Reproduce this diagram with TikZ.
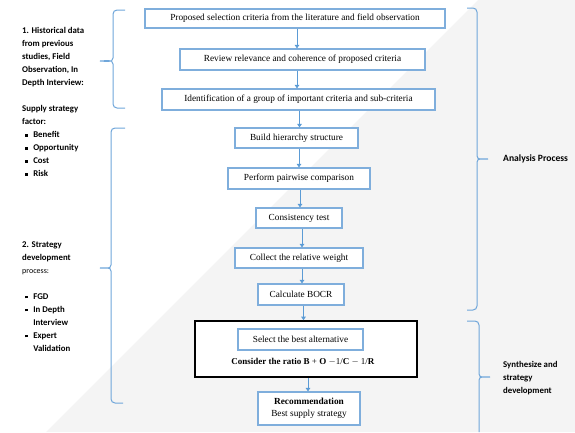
\documentclass[tikz,border=0pt]{standalone}
\usepackage{fontspec}
\setmainfont{Liberation Serif}
\newfontfamily\carl{Carlito}
\usetikzlibrary{arrows.meta}
\definecolor{boxblue}{HTML}{7FAEDC}
\definecolor{arrblue}{HTML}{5B9BD5}
\definecolor{braceblue}{HTML}{6FA6DA}
\definecolor{bggray}{HTML}{F4F4F4}
\tikzset{
  procbox/.style={draw=boxblue,line width=1.1pt,fill=white,inner sep=0pt,
    font=\fontsize{9.3}{11}\selectfont,align=center},
  arr/.style={draw=arrblue,line width=1pt,-{Triangle[width=4.5pt,length=3.5pt]}},
  bracestyle/.style={draw=braceblue,line width=1pt},
  sidetext/.style={inner sep=0pt,anchor=north west,align=left,
    font=\carl\bfseries\fontsize{8.8}{13}\selectfont},
}
\newcommand{\bul}{\hspace*{3pt}\rule[1pt]{2.6pt}{2.6pt}\hspace{5.5pt}}
\newcommand{\bulind}{\hspace*{11.1pt}}
\begin{document}
\begin{tikzpicture}[x=1pt,y=-1pt]
\useasboundingbox (0,0) rectangle (575,432);
\fill[bggray] (478,0) -- (575,0) -- (575,432) -- (46,432) -- cycle;

% main flow
\node[procbox,minimum width=300pt,minimum height=19pt] (b1) at (295,18.5)
  {Proposed selection criteria from the literature and field observation};
\node[procbox,minimum width=245pt,minimum height=21pt] (b2) at (302.5,59.5)
  {Review relevance and coherence of proposed criteria};
\node[procbox,minimum width=273pt,minimum height=21pt] (b3) at (298.5,99.5)
  {Identification of a group of important criteria and sub-criteria};
\node[procbox,minimum width=123pt,minimum height=20pt] (b4) at (296.5,138)
  {Build hierarchy structure};
\node[procbox,minimum width=142pt,minimum height=21pt] (b5) at (299,178.5)
  {Perform pairwise comparison};
\node[procbox,minimum width=86pt,minimum height=20pt] (b6) at (299,218)
  {Consistency test};
\node[procbox,minimum width=128pt,minimum height=20pt] (b7) at (299,258)
  {Collect the relative weight};
\node[procbox,minimum width=86pt,minimum height=21pt] (b8) at (301,294.5)
  {Calculate BOCR};
\node[draw=black,line width=1.6pt,fill=white,minimum width=222pt,minimum height=56pt,inner sep=0pt] (b9) at (306,349) {};
\node[procbox,minimum width=125pt,minimum height=21pt] (b10) at (300.5,339.5)
  {Select the best alternative};
\node[inner sep=0pt,font=\fontsize{9}{11}\selectfont] (ratio) at (303,362)
  {\textbf{Consider the ratio B} + \textbf{O} $-$1/\textbf{C} $-$ 1/\textbf{R}};
\node[procbox,minimum width=102pt,minimum height=33pt,
  font=\fontsize{9.3}{12.5}\selectfont] (b11) at (309,408.5)
  {\textbf{Recommendation}\\Best supply strategy};

% arrows
\draw[arr] ([xshift=2pt]b1.south) -- ([xshift=2pt]b1.south |- b2.north);
\draw[arr] ([xshift=2pt]b1.south |- b2.south) -- ([xshift=2pt]b1.south |- b3.north);
\draw[arr] ([xshift=3pt]b4.north |- b3.south) -- ([xshift=3pt]b4.north);
\draw[arr] ([xshift=2.5pt]b4.south) -- ([xshift=2.5pt]b4.south |- b5.north);
\draw[arr] ([xshift=1pt]b5.south) -- ([xshift=1pt]b5.south |- b6.north);
\draw[arr] ([xshift=3pt]b6.south) -- ([xshift=3pt]b6.south |- b7.north);
\draw[arr] ([xshift=3pt]b7.south) -- ([xshift=3pt]b7.south |- b8.north);
\draw[arr] ([xshift=2.5pt]b8.south) -- ([xshift=2.5pt]b8.south |- b9.north);
\draw[arr] ([xshift=-1pt]b11.north |- b9.south) -- ([xshift=-1pt]b11.north);

% left braces
\draw[bracestyle] (125,10) -- (117,10) to[out=180,in=90] (113,14) -- (113,58)
  to[out=-90,in=0] (100,61) to[out=0,in=90] (113,64) -- (113,104)
  to[out=-90,in=180] (117,108) -- (125,108);
\draw[bracestyle] (125,128) -- (115,128) to[out=180,in=90] (111,132) -- (111,265)
  to[out=-90,in=0] (100,268) to[out=0,in=90] (111,271) -- (111,399)
  to[out=-90,in=180] (115,403) -- (123,403);

% right braces
\draw[bracestyle] (467,8) -- (473,8) to[out=0,in=90] (477,12) -- (477,156)
  to[out=-90,in=180] (488,159) to[out=180,in=90] (477,162) -- (477,306)
  to[out=-90,in=0] (473,310) -- (467,310);
\draw[bracestyle] (467,321) -- (475,321) to[out=0,in=90] (479,325) -- (479,374)
  to[out=-90,in=180] (490,377) to[out=180,in=90] (479,380) -- (479,432);

% side texts
\node[sidetext] (t1) at (22,27.5)
  {1. Historical data\\from previous\\studies, Field\\Observation, In\\Depth Interview:\\[13pt]%
   Supply strategy\\factor:\\\bul Benefit\\\bul Opportunity\\\bul Cost\\\bul Risk};
\node[sidetext] (t2) at (22,241.5)
  {2. Strategy\\development\\{\mdseries\fontsize{8}{13}\selectfont process:}\\[13pt]%
   \bul FGD\\\bul In Depth\\\bulind Interview\\\bul Expert\\\bulind Validation};
\node[sidetext,anchor=west,font=\carl\bfseries\fontsize{9.6}{13}\selectfont] (t3) at (503,159) {Analysis Process};
\node[sidetext] (t4) at (503,361.5) {Synthesize and\\strategy\\development};
\end{tikzpicture}
\end{document}
